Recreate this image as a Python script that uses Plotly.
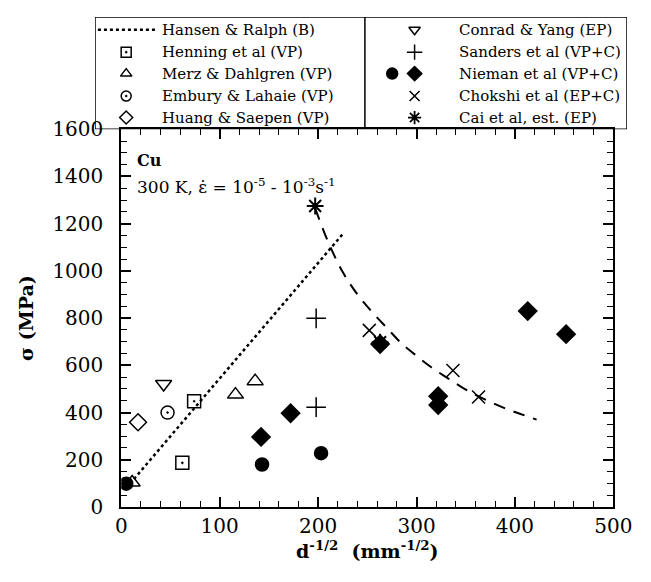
import plotly.graph_objects as go

# ---------------- data ----------------
hansen_x = [5, 225]
hansen_y = [80, 1156]

henning_x = [62, 74]
henning_y = [187, 448]

merz_x = [11, 116, 136]
merz_y = [104, 476, 533]

embury_x = [47]
embury_y = [400]

huang_x = [17]
huang_y = [359]

conrad_x = [43]
conrad_y = [521]

sanders_x = [198, 198]
sanders_y = [799, 423]

nieman_circ_x = [5, 143, 203]
nieman_circ_y = [99, 180, 228]

nieman_diam_x = [142, 172, 263, 322, 322, 413, 452]
nieman_diam_y = [297, 397, 690, 469, 432, 830, 732]

chokshi_x = [252, 337, 363]
chokshi_y = [748, 578, 466]

cai_x = [197, 263]
cai_y = [1275, 698]

cai_curve_x = [197, 210, 225, 240, 255, 270, 285, 300, 315, 330, 345, 360, 375, 390, 405, 422]
cai_curve_y = [1265, 1125, 995, 900, 825, 758, 692, 640, 592, 550, 510, 475, 445, 418, 395, 370]

legend_left = ["Hansen & Ralph (B)", "Henning et al (VP)", "Merz & Dahlgren (VP)",
               "Embury & Lahaie (VP)", "Huang & Saepen (VP)"]
legend_right = ["Conrad & Yang (EP)", "Sanders et al (VP+C)", "Nieman et al (VP+C)",
                "Chokshi et al (EP+C)", "Cai et al, est. (EP)"]

x_ticks = [0, 100, 200, 300, 400, 500]
y_ticks = [0, 200, 400, 600, 800, 1000, 1200, 1400, 1600]

# ---------------- figure ----------------
SERIF = "DejaVu Serif"
W, H = 651, 582
ML, MR, MT, MB = 95, 10, 5, 75
PLOT_TOP_PX = 120
PLOT_L_PX = 122
PLOT_R_PX = 627
paper_w = W - ML - MR
paper_h = H - MT - MB

def px2paper_x(px):
    return (px - ML) / paper_w

def px2paper_y(py):
    return (H - MB - py) / paper_h

xdom = [px2paper_x(PLOT_L_PX), px2paper_x(PLOT_R_PX)]
ydom_top = px2paper_y(PLOT_TOP_PX)

fig = go.Figure()

def pts(x, y, symbol, size, lw=1.5):
    return go.Scatter(
        x=x, y=y, mode="markers", showlegend=False, hoverinfo="skip",
        marker=dict(symbol=symbol, size=size, color="black",
                    line=dict(color="black", width=lw)))

fig.add_trace(go.Scatter(x=hansen_x, y=hansen_y, mode="lines", showlegend=False,
                         line=dict(color="black", width=2.5, dash="dot")))
fig.add_trace(go.Scatter(x=cai_curve_x, y=cai_curve_y, mode="lines", showlegend=False,
                         line=dict(color="black", width=2, dash="12px,9px"),
                         line_shape="spline"))

fig.add_trace(pts(henning_x, henning_y, "square-open-dot", 13))
fig.add_trace(pts(merz_x, merz_y, "triangle-up-open", 14))
fig.add_trace(pts(embury_x, embury_y, "circle-open-dot", 13))
fig.add_trace(pts(huang_x, huang_y, "diamond-open", 13))
fig.add_trace(pts(conrad_x, conrad_y, "triangle-down-open", 14))
fig.add_trace(pts(sanders_x, sanders_y, "cross-thin-open", 14))
fig.add_trace(pts(nieman_circ_x, nieman_circ_y, "circle", 13))
fig.add_trace(pts(nieman_diam_x, nieman_diam_y, "diamond", 14))
fig.add_trace(pts(chokshi_x, chokshi_y, "x-thin-open", 13))
fig.add_trace(pts(cai_x, cai_y, "asterisk-open", 14, lw=2))

# ---------------- legend drawn on an overlay axis (pixel units) ----------------
row_y = [18, 41, 63, 86, 108]
LX_MARK, LX_TEXT = 127, 162
RX_MARK, RX_TEXT = 423, 467

def leg(x, y, symbol, size, lw=1.5):
    return go.Scatter(x=x, y=y, xaxis="x2", yaxis="y2", mode="markers",
                      showlegend=False, hoverinfo="skip",
                      marker=dict(symbol=symbol, size=size, color="black",
                                  line=dict(color="black", width=lw)))

fig.add_trace(go.Scatter(x=[98, 158], y=[row_y[0], row_y[0]], xaxis="x2", yaxis="y2",
                         mode="lines", showlegend=False,
                         line=dict(color="black", width=2.5, dash="dot")))
fig.add_trace(leg([LX_MARK], [row_y[1]], "square-open-dot", 10))
fig.add_trace(leg([LX_MARK], [row_y[2]], "triangle-up-open", 10))
fig.add_trace(leg([LX_MARK], [row_y[3]], "circle-open-dot", 10))
fig.add_trace(leg([LX_MARK], [row_y[4]], "diamond-open", 10))
fig.add_trace(leg([RX_MARK], [row_y[0]], "triangle-down-open", 10))
fig.add_trace(leg([RX_MARK], [row_y[1]], "cross-thin-open", 11))
fig.add_trace(leg([400], [row_y[2]], "circle", 11))
fig.add_trace(leg([RX_MARK], [row_y[2]], "diamond", 11))
fig.add_trace(leg([RX_MARK], [row_y[3]], "x-thin-open", 10))
fig.add_trace(leg([RX_MARK], [row_y[4]], "asterisk-open", 11, lw=1.8))

annotations = []
for i, t in enumerate(legend_left):
    annotations.append(dict(x=px2paper_x(LX_TEXT), y=px2paper_y(row_y[i]),
                            xref="paper", yref="paper", text=t,
                            showarrow=False, xanchor="left", yanchor="middle",
                            font=dict(family=SERIF, size=15, color="black")))
for i, t in enumerate(legend_right):
    annotations.append(dict(x=px2paper_x(RX_TEXT), y=px2paper_y(row_y[i]),
                            xref="paper", yref="paper", text=t,
                            showarrow=False, xanchor="left", yanchor="middle",
                            font=dict(family=SERIF, size=15, color="black")))

annotations.append(dict(x=px2paper_x(136), y=px2paper_y(152),
                        xref="paper", yref="paper", text="<b>Cu</b>",
                        showarrow=False, xanchor="left", yanchor="middle",
                        font=dict(family=SERIF, size=16, color="black")))
annotations.append(dict(x=px2paper_x(136), y=px2paper_y(178),
                        xref="paper", yref="paper",
                        text="300 K, \u03b5\u0307 = 10<sup>-5</sup> - 10<sup>-3</sup>s<sup>-1</sup>",
                        showarrow=False, xanchor="left", yanchor="middle",
                        font=dict(family=SERIF, size=17, color="black")))

shapes = [
    dict(type="rect", xref="x2", yref="y2", x0=95, x1=641, y0=5, y1=120,
         line=dict(color="black", width=1.5)),
    dict(type="line", xref="x2", yref="y2", x0=372, x1=372, y0=5, y1=120,
         line=dict(color="black", width=1.5)),
]

axis_common = dict(
    showgrid=False, zeroline=False, showline=True, linecolor="black", linewidth=2,
    mirror="allticks", ticks="inside", ticklen=10, tickwidth=1.5, tickcolor="black",
    tickfont=dict(family=SERIF, size=20, color="black"),
)

fig.update_layout(
    width=W, height=H, margin=dict(l=ML, r=MR, t=MT, b=MB),
    paper_bgcolor="white", plot_bgcolor="white",
    showlegend=False,
    font=dict(family=SERIF, color="black"),
    xaxis=dict(domain=xdom, range=[0, 500], tickvals=x_ticks,
               ticktext=[str(v) for v in x_ticks],
               minor=dict(dtick=20, ticklen=6, tickwidth=1.2, tickcolor="black", ticks="inside"),
               title=dict(text="<b>d<sup>-1/2</sup>  (mm<sup>-1/2</sup>)</b>",
                          font=dict(family=SERIF, size=19, color="black"), standoff=6),
               **axis_common),
    yaxis=dict(domain=[0, ydom_top], range=[0, 1600], tickvals=y_ticks,
               ticktext=[str(v) for v in y_ticks],
               minor=dict(dtick=50, ticklen=6, tickwidth=1.2, tickcolor="black", ticks="inside"),
               ticklabelstandoff=12,
               title=dict(text="<b>\u03c3 (MPa)</b>",
                          font=dict(family=SERIF, size=19, color="black"), standoff=14),
               **axis_common),
    xaxis2=dict(domain=[0, 1], range=[95, 641], visible=False, fixedrange=True,
                anchor="y2"),
    yaxis2=dict(domain=[ydom_top, 1], range=[120, 5], visible=False, fixedrange=True,
                anchor="x2"),
    annotations=annotations,
    shapes=shapes,
)

fig.write_html("out.html")
